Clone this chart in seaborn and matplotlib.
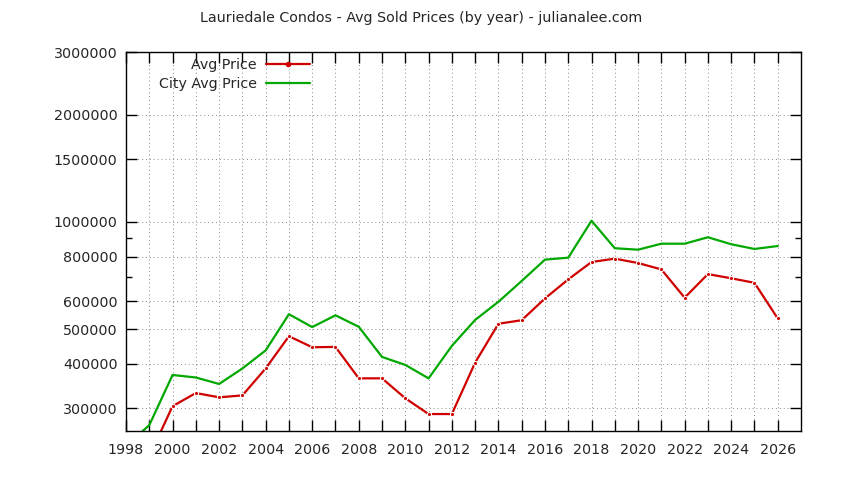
import pandas as pd
import seaborn as sns
import matplotlib.pyplot as plt
from matplotlib.ticker import FixedLocator, NullFormatter
from matplotlib.lines import Line2D

# values
years_avg = list(range(1999, 2027))
avg_price = [220000, 304000, 331000, 322000, 326000, 388000, 478000, 445000, 446000,
             364000, 364000, 320000, 289000, 289000, 403000, 518000, 530000, 610000,
             690000, 772000, 789000, 767000, 736000, 613000, 714000, 695000, 675000, 536000]

years_city = list(range(1998, 2027))
city_price = [235000, 269000, 372000, 366000, 351000, 388000, 436000, 551000, 507000, 547000,
              508000, 418000, 397000, 364000, 449000, 531000, 597000, 683000, 784000,
              794000, 1008000, 844000, 836000, 869000, 869000, 906000, 866000, 840000, 856000]

y_ticks = [300000, 400000, 500000, 600000, 800000, 1000000, 1500000, 2000000, 3000000]
y_minor = [700000, 900000]
x_ticks = list(range(1998, 2027, 2))

df = pd.concat([
    pd.DataFrame({'year': years_avg, 'price': avg_price, 'series': 'Avg Price'}),
    pd.DataFrame({'year': years_city, 'price': city_price, 'series': 'City Avg Price'}),
])

sns.set_style('ticks')
plt.rcParams['font.family'] = ['DejaVu Sans']
fs = 10.3

fig = plt.figure(figsize=(8.44, 4.8), dpi=100)
ax = fig.add_axes([126 / 844, 1 - 431 / 480, 675 / 844, 379 / 480])

colors = {'Avg Price': '#d00000', 'City Avg Price': '#00a800'}
sns.lineplot(data=df, x='year', y='price', hue='series', palette=colors,
             linewidth=1.6, ax=ax, legend=False)
# points on the red series only
red = ax.lines[0]
red.set_marker('o')
red.set_markersize(3)

ax.set_yscale('log')
ax.set_ylim(259000, 3000000)
ax.set_xlim(1998, 2027)

ax.yaxis.set_major_locator(FixedLocator(y_ticks))
ax.yaxis.set_minor_locator(FixedLocator(y_minor))
ax.yaxis.set_minor_formatter(NullFormatter())
ax.set_yticklabels([str(v) for v in y_ticks])
ax.xaxis.set_major_locator(FixedLocator(x_ticks))
ax.xaxis.set_minor_locator(FixedLocator(list(range(1999, 2027, 2))))
ax.set_xticklabels([str(v) for v in x_ticks])

ax.tick_params(which='both', direction='in', top=True, right=True, labelsize=fs,
               color='black', width=1)
ax.tick_params(axis='x', which='both', length=8, pad=8.5)
ax.tick_params(axis='y', which='major', length=8, pad=6)
ax.tick_params(axis='y', which='minor', length=4)

ax.grid(True, which='major', axis='both', linestyle=(0, (1, 3)), color='#888888', linewidth=0.7)
ax.grid(True, which='minor', axis='x', linestyle=(0, (1, 3)), color='#888888', linewidth=0.7)
for s in ax.spines.values():
    s.set_visible(True)
    s.set_color('black')
    s.set_linewidth(1)
ax.set_xlabel('')
ax.set_ylabel('')

h1 = Line2D([0, 0.5, 1], [0, 0, 0], color='#d00000', linewidth=1.6, marker='o',
            markersize=3, markevery=[1])
h2 = Line2D([0, 1], [0, 0], color='#00a800', linewidth=1.6)
ax.legend([h1, h2], ['Avg Price', 'City Avg Price'], loc='upper right',
          bbox_to_anchor=(0.273, 0.985), frameon=False, markerfirst=False,
          handlelength=3.1, borderpad=0, borderaxespad=0, handletextpad=0.65,
          labelspacing=0.38, fontsize=fs)

fig.suptitle('Lauriedale Condos - Avg Sold Prices (by year) - julianalee.com',
             x=421 / 844, y=1 - 18 / 480, va='center', fontsize=fs)

fig.savefig('out.png', dpi=100)
